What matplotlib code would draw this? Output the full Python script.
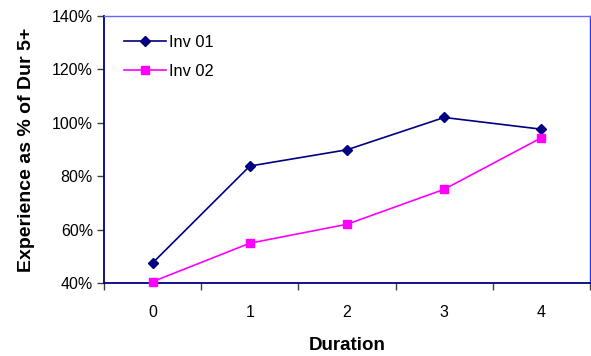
import matplotlib
matplotlib.use("Agg")
import matplotlib.pyplot as plt
from matplotlib.ticker import FuncFormatter, FixedLocator

plt.rcParams['font.family'] = ['Liberation Sans', 'DejaVu Sans']

durations = ["0", "1", "2", "3", "4"]
inv01 = [47.5, 83.8, 89.9, 102.0, 97.6]
inv02 = [40.5, 54.9, 62.0, 75.1, 94.4]
y_ticks = [40, 60, 80, 100, 120, 140]

fig = plt.figure(figsize=(5.91, 3.56), dpi=100)
ax = fig.add_axes([104 / 591, (356 - 283) / 356, (590 - 104) / 591, (283 - 16) / 356])

x = list(range(len(durations)))
ax.plot(x, inv01, color="#000080", marker="D", markersize=5.5, linewidth=1.2,
        label="Inv 01", clip_on=False, zorder=3)
ax.plot(x, inv02, color="#FF00FF", marker="s", markersize=5.5, linewidth=1.2,
        label="Inv 02", clip_on=False, zorder=3)

ax.set_xlim(-0.5, len(durations) - 0.5)
ax.set_ylim(40, 140)
ax.set_yticks(y_ticks)
ax.yaxis.set_major_formatter(FuncFormatter(lambda v, p: f"{v:.0f}%"))

ax.set_xticks(x)
ax.set_xticklabels(durations)
ax.xaxis.set_minor_locator(FixedLocator([i - 0.5 for i in range(len(durations) + 1)]))
ax.tick_params(axis="x", which="major", length=0, pad=16, labelsize=11.5, colors="#000000")
ax.tick_params(axis="x", which="minor", length=5, width=1, color="#404040", direction="out")
ax.tick_params(axis="y", length=5, width=1, color="#404040", labelsize=11.5, pad=3)

for side in ("left", "bottom"):
    ax.spines[side].set_color("#000080")
    ax.spines[side].set_linewidth(1.3)
ax.spines["top"].set_color("#6666FF")
ax.spines["right"].set_color("#3333FF")
for side in ("top", "right"):
    ax.spines[side].set_linewidth(1.0)

ax.set_xlabel("Duration", fontsize=13.5, fontweight="bold", labelpad=12)
ax.set_ylabel("Experience as % of Dur 5+", fontsize=14, fontweight="bold", labelpad=12)

ax.legend(loc="upper left", frameon=False, fontsize=11.8, handlelength=2.6,
          handletextpad=0.2, labelspacing=0.85, bbox_to_anchor=(0.01, 0.985))

fig.savefig("out.png", dpi=100)
